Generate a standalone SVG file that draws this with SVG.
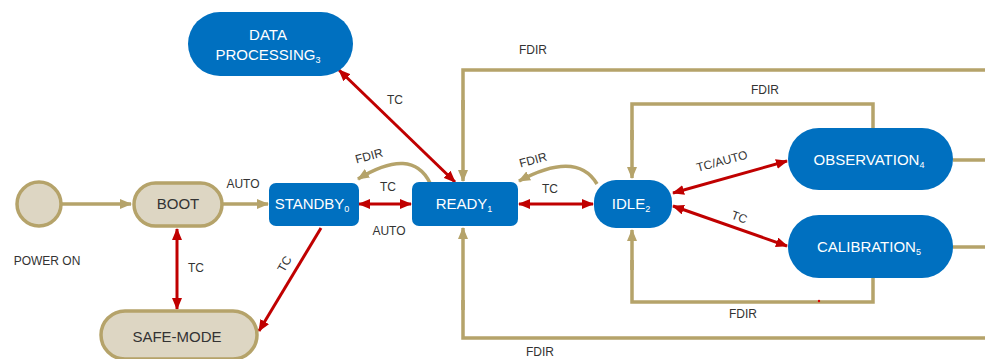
<svg xmlns="http://www.w3.org/2000/svg" width="985" height="359" viewBox="0 0 985 359">
<defs>
<marker id="rh" markerUnits="userSpaceOnUse" markerWidth="12" markerHeight="10" refX="11" refY="5" orient="auto-start-reverse"><path d="M0,0 L12,5 L0,10 Z" fill="#c00000"/></marker>
<marker id="gh" markerUnits="userSpaceOnUse" markerWidth="12" markerHeight="10" refX="11" refY="5" orient="auto"><path d="M0,0 L12,5 L0,10 Z" fill="#b5a36a"/></marker>
</defs>
<style>
.bn{fill:#0070c0;}
.tn{fill:#ddd6c3;stroke:#b5a36a;stroke-width:3.5;}
.bt{font-family:"Liberation Sans",Arial,sans-serif;font-size:15px;fill:#ffffff;text-anchor:middle;}
.tt{font-family:"Liberation Sans",Arial,sans-serif;font-size:15px;fill:#333333;text-anchor:middle;}
.el{font-family:"Liberation Sans",Arial,sans-serif;font-size:12px;fill:#333333;text-anchor:middle;}
.g{fill:none;stroke:#b5a36a;stroke-width:3.5;}
.ga{fill:none;stroke:#b5a36a;stroke-width:3.5;marker-end:url(#gh);}
.r{fill:none;stroke:#c00000;stroke-width:3;marker-start:url(#rh);marker-end:url(#rh);}
.r1{fill:none;stroke:#c00000;stroke-width:3;marker-end:url(#rh);}
</style>
<g id="connectors">
<path class="ga" d="M62,204 H131"/>
<path class="ga" d="M222,204 H268"/>
<path class="r" d="M177,229 V309"/>
<path class="r1" d="M321,228 L259,331"/>
<path class="r" d="M339,70 L455,182"/>
<path class="r" d="M359,204 H411"/>
<path class="ga" d="M430,183 Q412,146 358,179"/>
<path class="g" d="M985,70 H463 V110"/>
<path class="ga" d="M463,100 V181"/>
<path class="g" d="M985,338 H463 V300"/>
<path class="ga" d="M463,310 V228"/>
<path class="r" d="M519,204 H593"/>
<path class="ga" d="M597,184 Q577,150 519,181"/>
<path class="g" d="M873,128 V104 H632 V140"/>
<path class="ga" d="M632,130 V178"/>
<path class="g" d="M873,278 V302 H632 V260"/>
<path class="ga" d="M632,270 V230"/>
<path class="r" d="M673,193 L787,161"/>
<path class="r" d="M673,206 L787,246"/>
<path class="g" d="M953,160 H985"/>
<path class="g" d="M953,247 H985"/>
<circle cx="819" cy="301" r="1.2" fill="#e00000"/>
<text class="el" x="243" y="188">AUTO</text>
<text class="el" x="196" y="272">TC</text>
<text class="el" transform="translate(288,266) rotate(-60)">TC</text>
<text class="el" x="395" y="104">TC</text>
<text class="el" transform="translate(370,160) rotate(-15)">FDIR</text>
<text class="el" x="388" y="191">TC</text>
<text class="el" x="389" y="235">AUTO</text>
<text class="el" x="533" y="54">FDIR</text>
<text class="el" x="540" y="356">FDIR</text>
<text class="el" transform="translate(534,164) rotate(-15)">FDIR</text>
<text class="el" x="550" y="193">TC</text>
<text class="el" x="765" y="94">FDIR</text>
<text class="el" x="743" y="318">FDIR</text>
<text class="el" transform="translate(723,165) rotate(-15)">TC/AUTO</text>
<text class="el" transform="translate(738,221) rotate(20)">TC</text>
<text class="el" x="47" y="265" font-size="13">POWER ON</text>
</g>
<g id="power-on"><circle class="tn" cx="39" cy="204" r="22"/></g>
<g id="boot"><rect class="tn" x="134" y="183" width="88" height="43" rx="21.5"/><text class="tt" x="178" y="209">BOOT</text></g>
<g id="safe-mode"><rect class="tn" x="101" y="311" width="156" height="48" rx="24"/><text class="tt" x="177" y="342">SAFE-MODE</text></g>
<g id="standby"><rect class="bn" x="269" y="183" width="90" height="43" rx="7"/><text class="bt" x="312" y="209">STANDBY<tspan font-size="9" dy="3">0</tspan></text></g>
<g id="data-processing"><rect class="bn" x="188" y="12" width="165" height="64" rx="32"/><text class="bt" x="268" y="40">DATA</text><text class="bt" x="268" y="60">PROCESSING<tspan font-size="9" dy="3">3</tspan></text></g>
<g id="ready"><rect class="bn" x="412" y="182" width="106" height="44" rx="7"/><text class="bt" x="464" y="209">READY<tspan font-size="9" dy="3">1</tspan></text></g>
<g id="idle"><rect class="bn" x="594" y="180" width="78" height="48" rx="22"/><text class="bt" x="631" y="209">IDLE<tspan font-size="9" dy="3">2</tspan></text></g>
<g id="observation"><rect class="bn" x="788" y="128" width="165" height="62" rx="31"/><text class="bt" x="869" y="165">OBSERVATION<tspan font-size="9" dy="3">4</tspan></text></g>
<g id="calibration"><rect class="bn" x="788" y="215" width="165" height="63" rx="31"/><text class="bt" x="869" y="252">CALIBRATION<tspan font-size="9" dy="3">5</tspan></text></g>
</svg>
